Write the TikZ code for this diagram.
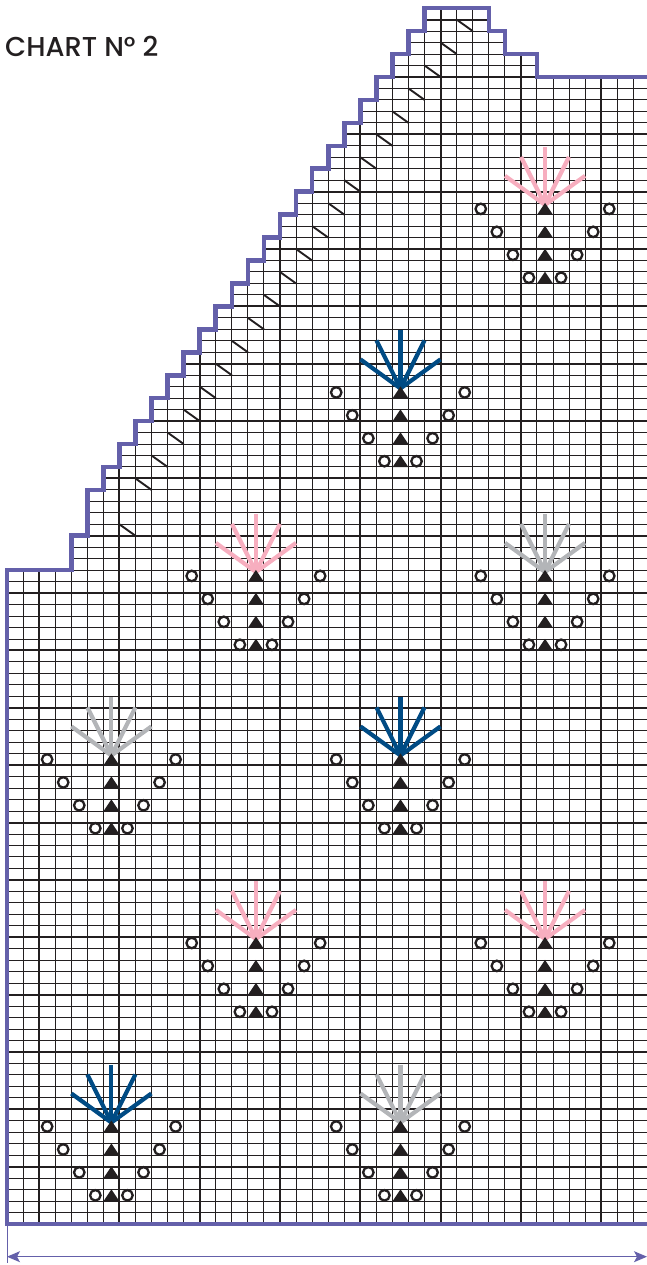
\documentclass[tikz,border=0pt]{standalone}
\usepackage{fontspec}
\setmainfont{Poppins}[UprightFont=* Medium]
\usetikzlibrary{arrows.meta}
\definecolor{ink}{HTML}{231F20}
\definecolor{edge}{HTML}{6460AA}
\definecolor{fannavy}{HTML}{004B84}
\definecolor{fanpink}{HTML}{F7AEBF}
\definecolor{fangray}{HTML}{B3B5B8}
\tikzset{
  gridthin/.style={ink, line width=1pt},
  gridheavy/.style={ink, line width=2pt},
  border/.style={edge, line width=4.6pt, line join=miter},
  dimline/.style={edge, line width=1.2pt},
  dimarrow/.style={dimline, {Stealth[length=13pt,width=11pt,inset=3pt]}-{Stealth[length=13pt,width=11pt,inset=3pt]}},
  decstitch/.style={ink, line width=1.9pt},
  fanline/.style={line width=4.2pt},
  holemark/.style={circle, draw=ink, fill=white, line width=2.3pt, minimum size=10.5pt, inner sep=0pt},
  tri/.style={fill=ink},
}
\newcommand\motif[3]{%
  \begin{scope}[shift={(#1+0.5,#2+0.5)}]
    \foreach \ex/\ey in {0/-62,-24/-52,24/-52,-40/-33,40/-33}
      \draw[fanline,#3] (0,4pt) -- (\ex pt,-\ey pt);
    \foreach \r/\o in {0/4,2/3,4/2,6/1}{
      \fill[tri] (-8pt,-6pt-\r*11.47pt) -- (8pt,-6pt-\r*11.47pt) -- (0,6pt-\r*11.47pt) -- cycle;
      \node[holemark] at (-\o,-\r) {};
      \node[holemark] at (\o,-\r) {};
    }
  \end{scope}}
\def\outline{(0,0) -- (0,57) -- (4,57) -- (4,60) -- (5,60) -- (5,64) -- (6,64) -- (6,66) -- (7,66) -- (7,68) -- (8,68) -- (8,70) -- (9,70) -- (9,72) -- (10,72) -- (10,74) -- (11,74) -- (11,76) -- (12,76) -- (12,78) -- (13,78) -- (13,80) -- (14,80) -- (14,82) -- (15,82) -- (15,84) -- (16,84) -- (16,86) -- (17,86) -- (17,88) -- (18,88) -- (18,90) -- (19,90) -- (19,92) -- (20,92) -- (20,94) -- (21,94) -- (21,96) -- (22,96) -- (22,98) -- (23,98) -- (23,100) -- (24,100) -- (24,102) -- (25,102) -- (25,104) -- (26,104) -- (26,106) -- (30,106) -- (30,104) -- (31,104) -- (31,102) -- (33,102) -- (33,100) -- (39.85,100)}
\begin{document}
\begin{tikzpicture}[x=16.06pt,y=11.47pt]
  \path[use as bounding box] (-7pt,-41pt) rectangle (640pt,1224pt);
  \begin{scope}
    \clip \outline -- (39.85,0) -- cycle;
    \foreach \k in {0,...,106}{
      \pgfmathtruncatemacro\m{mod(\k,5)}
      \ifnum\m=0 \draw[gridheavy] (0,\k) -- (39.85,\k);
      \else \draw[gridthin] (0,\k) -- (39.85,\k); \fi
    }
    \foreach \c in {0,...,39}{
      \pgfmathtruncatemacro\m{mod(\c,5)}
      \ifnum\m=2 \draw[gridheavy] (\c,0) -- (\c,106);
      \else \draw[gridthin] (\c,0) -- (\c,106); \fi
    }
  \end{scope}
  \draw[decstitch] (7,61) -- (8,60);
  \foreach \c in {8,...,28}
    \draw[decstitch] (\c,{49+2*\c}) -- (\c+1,{48+2*\c});
  \motif{33}{88}{fanpink}
  \motif{24}{72}{fannavy}
  \motif{15}{56}{fanpink}
  \motif{33}{56}{fangray}
  \motif{6}{40}{fangray}
  \motif{24}{40}{fannavy}
  \motif{15}{24}{fanpink}
  \motif{33}{24}{fanpink}
  \motif{6}{8}{fannavy}
  \motif{24}{8}{fangray}
  \draw[border] (39.85,0) -- \outline;
  \draw[border] (0,0) -- (39.85,0);
  \coordinate (tickfoot) at (0.03,-39pt);
  \coordinate (tickhead) at (0.03,0);
  \draw[dimline] (tickhead) -- (tickfoot);
  \coordinate (arrowleft) at (0,-32.7pt);
  \coordinate (arrowright) at (39.85,-32.7pt);
  \draw[dimarrow] (arrowleft) -- (arrowright);
  \node[anchor=base west, inner sep=0pt, text=ink, font=\fontsize{27.3}{29}\selectfont] (title) at (-2pt,1167pt) {CHART N° 2};
\end{tikzpicture}
\end{document}
